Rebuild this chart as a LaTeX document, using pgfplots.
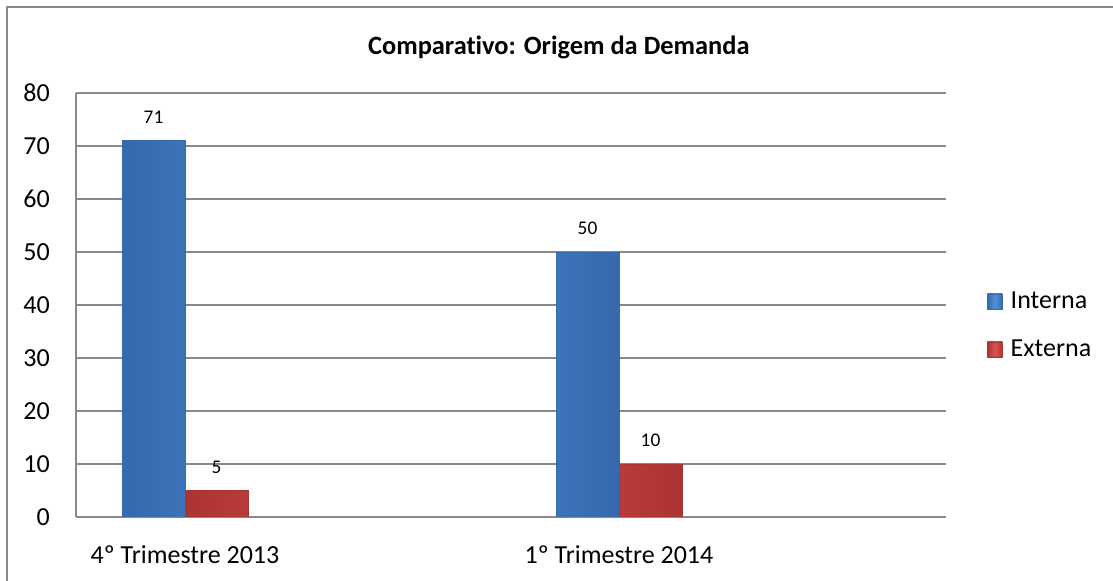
\documentclass[border=0pt]{standalone}
\usepackage{fontspec}
\setmainfont[Ligatures=NoCommon]{Carlito}
\usepackage{pgfplots}
\pgfplotsset{compat=1.18}
\definecolor{gridgray}{HTML}{898989}
\definecolor{bluemid}{HTML}{5290DA}
\definecolor{blueedge}{HTML}{3669AD}
\definecolor{redmid}{HTML}{DA5451}
\definecolor{rededge}{HTML}{AB3331}
\pgfplotsset{
  sqlegend/.style={legend image code/.code={\draw[##1] (0pt,-5.6pt) rectangle (11.25pt,5.6pt);}},
}
\begin{document}
\begin{tikzpicture}
  \useasboundingbox (-57pt,-48pt) rectangle (777.75pt,387.75pt);
  \draw[gridgray, line width=1.1pt] (-51.75pt,-60pt) -- (-51.75pt,382.5pt) -- (800pt,382.5pt);
  \begin{axis}[
      scale only axis,
      width=652.5pt, height=318pt,
      ybar=0pt, bar width=47.25pt,
      xmin=0.7488, xmax=2.7535,
      ymin=0, ymax=80,
      ytick={0,10,20,30,40,50,60,70,80},
      xtick={1,2},
      xticklabels={4º Trimestre 2013, 1º Trimestre 2014},
      major tick length=0pt,
      axis x line*=bottom, axis y line*=left,
      axis line style={gridgray, line width=1.1pt},
      ymajorgrids, grid style={gridgray, line width=1.1pt},
      /pgf/number format/assume math mode=true,
      tick label style={font=\fontsize{19.5}{23}\selectfont},
      yticklabel style={inner sep=0pt, anchor=east, xshift=-19.5pt},
      xticklabel style={inner sep=0pt, anchor=north, yshift=-21pt},
      nodes near coords,
      every node near coord/.append style={font=\fontsize{14.5}{17}\selectfont, inner sep=0pt, anchor=south, yshift=12.75pt},
      title={\textbf{Comparativo: Origem da Demanda}},
      title style={font=\fontsize{19.8}{23}\selectfont, at={(0.555,1.071)}, anchor=base, inner sep=0pt},
      legend style={draw=none, fill=none, at={(1.047,0.452)}, anchor=west,
        font=\fontsize{19.5}{23}\selectfont, row sep=22pt, inner sep=0pt,
        nodes={inner sep=0pt}},
      legend cell align=left,
    ]
    \addplot[draw=blueedge, left color=blueedge, right color=blueedge, middle color=bluemid, sqlegend]
      coordinates {(1,71) (2,50)};
    \addlegendentry{\hspace{6pt}Interna}
    \addplot[draw=rededge, left color=rededge, right color=rededge, middle color=redmid, sqlegend]
      coordinates {(1,5) (2,10)};
    \addlegendentry{\hspace{6pt}Externa}
  \end{axis}
\end{tikzpicture}
\end{document}
